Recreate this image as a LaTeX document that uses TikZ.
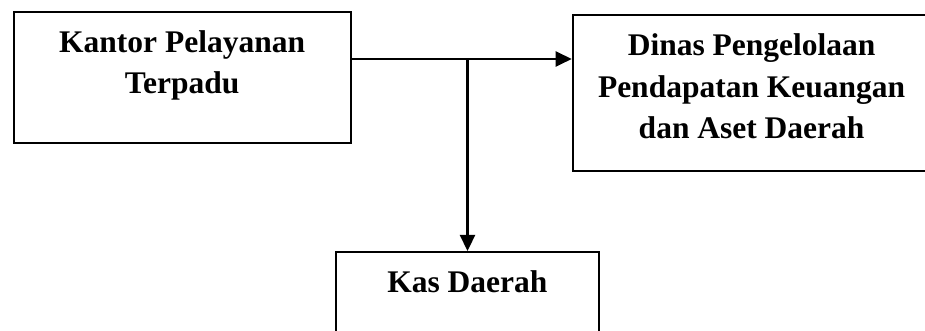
\documentclass[tikz,border=0pt]{standalone}
\usepackage{fontspec}
\setmainfont{Liberation Serif}
\usetikzlibrary{arrows.meta}

\begin{document}
\begin{tikzpicture}[x=1pt,y=1pt,
  box/.style={draw,line width=1.8pt,inner sep=0pt,align=center,anchor=north west,
    font=\bfseries\fontsize{31.5}{41.5}\selectfont},
  link/.style={line width=2.3pt,-{Triangle[length=16pt,width=15pt]}}]
  \useasboundingbox (0,0) rectangle (925,331);
  \clip (0,0) rectangle (925,331);
  \node[box,minimum width=337pt,text height=82pt,text depth=49pt] (kpt) at (12.7,320) {Kantor Pelayanan\\Terpadu};
  \node[box,minimum width=358pt,text height=124pt,text depth=32pt] (dppkad) at (571.7,317) {Dinas Pengelolaan\\Pendapatan Keuangan\\dan Aset Daerah};
  \node[box,minimum width=263pt,text height=41pt,text depth=100pt] (kas) at (335,80) {Kas Daerah};
  \coordinate (j) at (467.5,272);
  \draw[line width=2.3pt] (kpt.east |- j) -- (j);
  \draw[link] (j) -- (dppkad.west |- j);
  \draw[link] (j) -- (kas.north -| j);
\end{tikzpicture}
\end{document}
